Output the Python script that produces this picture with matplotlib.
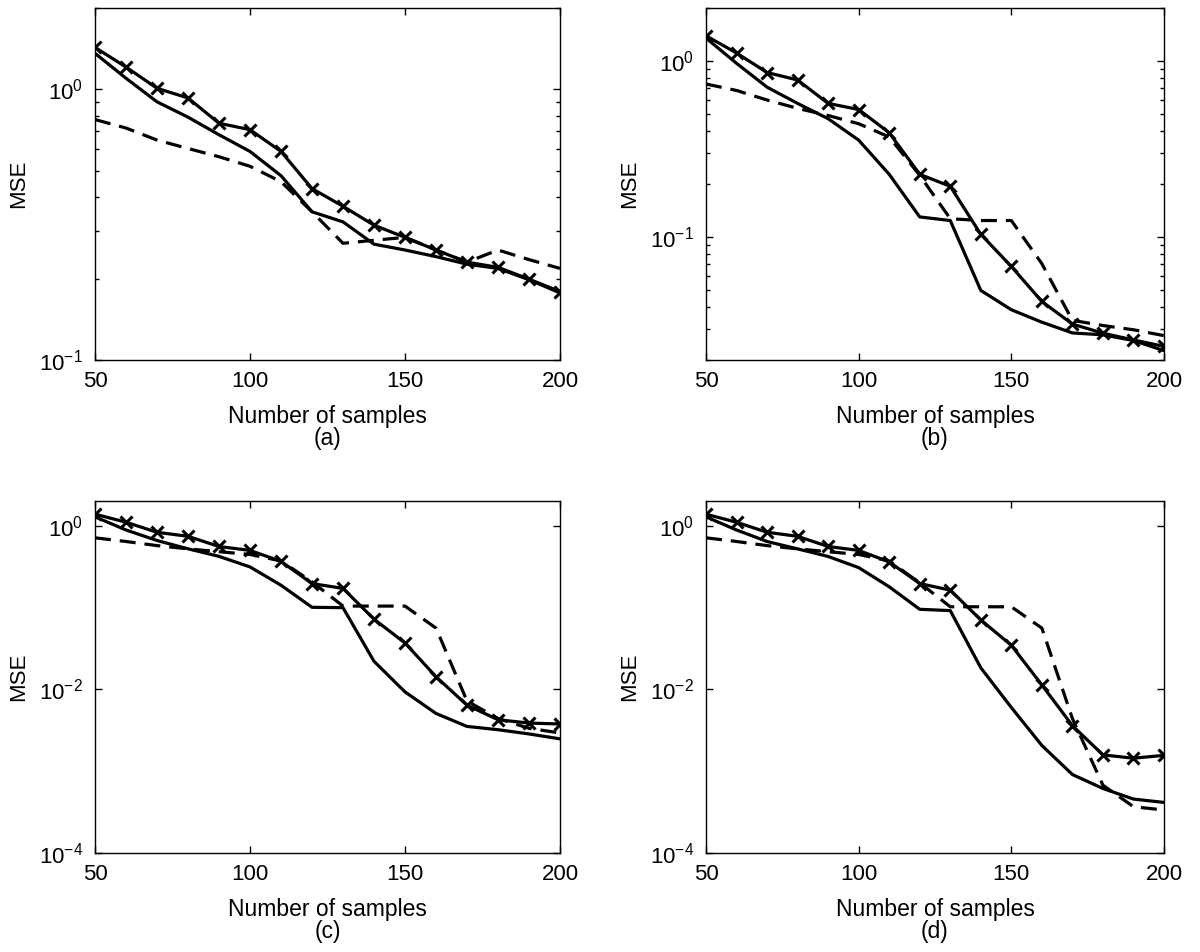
import matplotlib

matplotlib.use("Agg")
import matplotlib.pyplot as plt
import numpy as np
from matplotlib.ticker import FixedLocator, LogFormatterSciNotation, LogLocator, NullFormatter, NullLocator

plt.rcParams["font.family"] = ["Liberation Sans", "DejaVu Sans"]
plt.rcParams["mathtext.fontset"] = "custom"
plt.rcParams["mathtext.rm"] = "Liberation Sans"
plt.rcParams["mathtext.it"] = "Liberation Sans:italic"
plt.rcParams["mathtext.bf"] = "Liberation Sans:bold"
plt.rcParams["font.size"] = 16

samples = [50, 60, 70, 80, 90, 100, 110, 120, 130, 140, 150, 160, 170, 180, 190, 200]

# panel (a)
a_marked = [1.43, 1.21, 1.01, 0.93, 0.75, 0.71, 0.59, 0.43, 0.37, 0.315, 0.284, 0.255, 0.23, 0.22, 0.199, 0.179]
a_solid = [1.36, 1.10, 0.90, 0.79, 0.68, 0.59, 0.48, 0.353, 0.324, 0.268, 0.255, 0.241, 0.226, 0.218, 0.198, 0.177]
a_dashed = [0.774, 0.72, 0.65, 0.605, 0.564, 0.52, 0.456, 0.353, 0.27, 0.277, 0.284, 0.255, 0.23, 0.255, 0.235, 0.218]

# panel (b)
b_marked = [1.39, 1.11, 0.86, 0.78, 0.574, 0.53, 0.391, 0.227, 0.194, 0.1035, 0.068, 0.043, 0.032, 0.0284, 0.026, 0.0239]
b_solid = [1.35, 0.97, 0.71, 0.574, 0.47, 0.355, 0.227, 0.13, 0.124, 0.0497, 0.0386, 0.0328, 0.0285, 0.0278, 0.0258, 0.0226]
b_dashed = [0.74, 0.68, 0.6, 0.538, 0.49, 0.44, 0.37, 0.224, 0.127, 0.124, 0.124, 0.0705, 0.0336, 0.0314, 0.0297, 0.0275]

# panel (c)
c_marked = [1.38, 1.10, 0.83, 0.74, 0.556, 0.498, 0.366, 0.196, 0.171, 0.072, 0.0368, 0.01425, 0.0064, 0.00425, 0.00387, 0.00377]
c_solid = [1.28, 0.885, 0.658, 0.521, 0.421, 0.313, 0.187, 0.1005, 0.0995, 0.022, 0.0093, 0.00507, 0.00352, 0.00321, 0.00285, 0.00248]
c_dashed = [0.71, 0.64, 0.57, 0.52, 0.48, 0.445, 0.37, 0.206, 0.104, 0.104, 0.104, 0.056, 0.0072, 0.0044, 0.00334, 0.00293]

# panel (d)
d_marked = [1.38, 1.10, 0.83, 0.74, 0.556, 0.498, 0.36, 0.196, 0.163, 0.0705, 0.0345, 0.0113, 0.0036, 0.00158, 0.00144, 0.00156]
d_solid = [1.28, 0.885, 0.64, 0.52, 0.42, 0.307, 0.179, 0.095, 0.0916, 0.0183, 0.006, 0.00206, 0.00091, 0.000614, 0.000456, 0.000415]
d_dashed = [0.71, 0.64, 0.57, 0.52, 0.48, 0.445, 0.37, 0.2, 0.102, 0.102, 0.102, 0.056, 0.0044, 0.000673, 0.000368, 0.000335]

W, H = 1200, 952


def px_rect(left, top, right, bottom):
    return [left / W, 1 - bottom / H, (right - left) / W, (bottom - top) / H]


def draw_panel(fig, rect, marked, solid, dashed, ylim, yticks, minor, tag):
    ax = fig.add_axes(rect)
    lw = 2.3
    ax.plot(samples, dashed, color="black", lw=lw, linestyle=(0, (5.0, 2.8)))
    ax.plot(samples, solid, color="black", lw=lw)
    ax.plot(samples, marked, color="black", lw=lw, marker="x", markersize=9, markeredgewidth=2.2)
    ax.set_yscale("log")
    ax.set_xlim(50, 200)
    ax.set_ylim(*ylim)
    ax.xaxis.set_major_locator(FixedLocator([50, 100, 150, 200]))
    ax.xaxis.set_minor_locator(NullLocator())
    ax.yaxis.set_major_locator(FixedLocator(yticks))
    ax.yaxis.set_major_formatter(LogFormatterSciNotation())
    if minor:
        ax.yaxis.set_minor_locator(LogLocator(base=10, subs=np.arange(2, 10)))
    else:
        ax.yaxis.set_minor_locator(NullLocator())
    ax.yaxis.set_minor_formatter(NullFormatter())
    ax.tick_params(which="both", direction="in", top=True, right=True, width=1.0)
    ax.tick_params(which="major", length=5)
    ax.tick_params(which="minor", length=3)
    ax.tick_params(axis="x", pad=8, labelsize=16)
    ax.tick_params(axis="y", pad=8.5, labelsize=16)
    for spine in ax.spines.values():
        spine.set_linewidth(1.0)
    ax.set_xlabel("Number of samples", fontsize=16.5)
    ax.xaxis.set_label_coords(0.5, -0.179)
    ax.xaxis.label.set_va("baseline")
    ax.set_ylabel("MSE", fontsize=16)
    ax.yaxis.label.set_va("center")
    ax.yaxis.set_label_coords((19 - rect[0] * W) / (rect[2] * W), 0.5)
    ax.text(0.5, -0.2415, tag, transform=ax.transAxes, ha="center", va="baseline", fontsize=16.5)
    return ax


fig = plt.figure(figsize=(W / 100, H / 100), dpi=100)

draw_panel(fig, px_rect(95, 8, 560, 360), a_marked, a_solid, a_dashed, (0.1, 2.0), [0.1, 1.0], True, "(a)")
ax_b = draw_panel(fig, px_rect(706, 8, 1164, 360), b_marked, b_solid, b_dashed, (0.02, 2.0), [0.1, 1.0], True, "(b)")
draw_panel(fig, px_rect(95, 501, 560, 853), c_marked, c_solid, c_dashed, (1e-4, 2.0), [1e-4, 1e-2, 1.0], False, "(c)")
ax_d = draw_panel(fig, px_rect(706, 501, 1164, 853), d_marked, d_solid, d_dashed, (1e-4, 2.0), [1e-4, 1e-2, 1.0], False, "(d)")

for ax in (ax_b, ax_d):
    ax.yaxis.set_label_coords((630 - 706) / 458, 0.5)

fig.savefig("out.png", dpi=100)
plt.close(fig)
